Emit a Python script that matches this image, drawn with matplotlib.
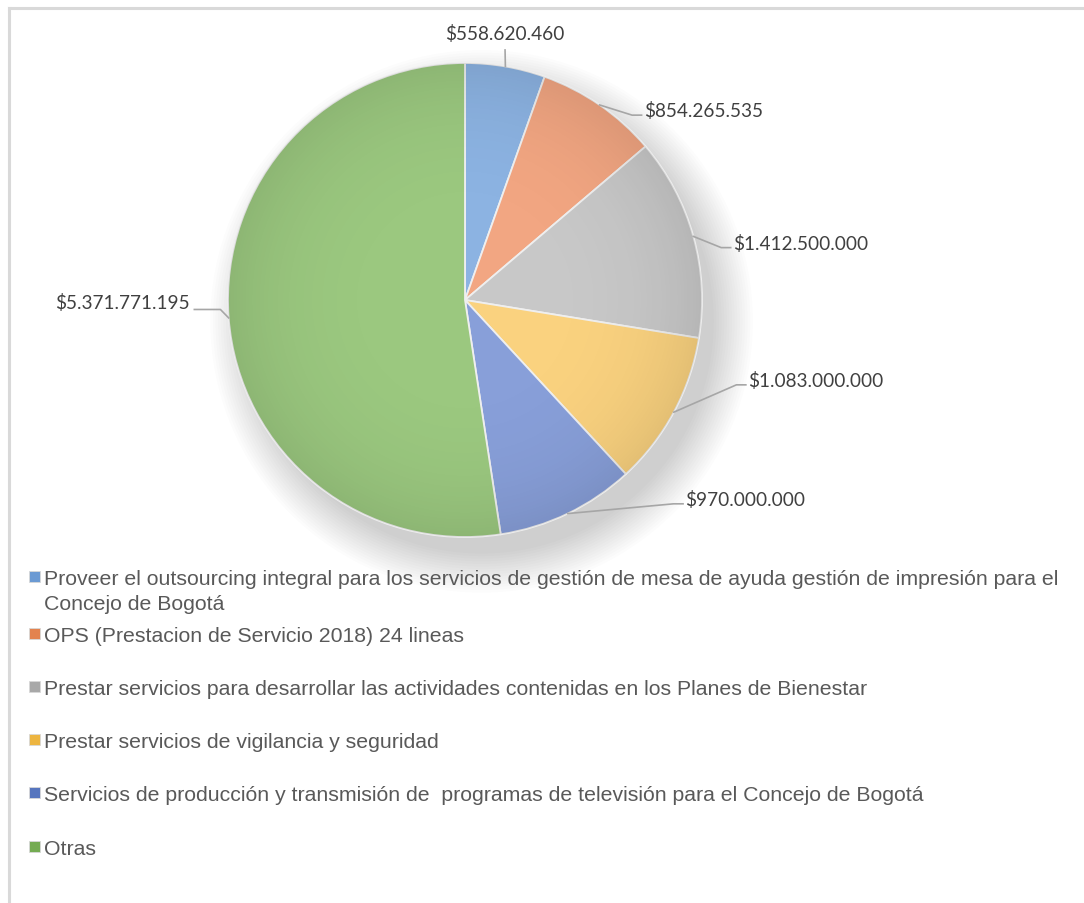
import matplotlib
matplotlib.use("Agg")
import matplotlib.pyplot as plt
import numpy as np
from matplotlib.patches import Circle, Rectangle
from matplotlib.lines import Line2D

categories = [
    "Proveer el outsourcing integral para los servicios de gestión de mesa de ayuda gestión de impresión para el\nConcejo de Bogotá",
    "OPS (Prestacion de Servicio 2018) 24 lineas",
    "Prestar servicios para desarrollar las actividades contenidas en los Planes de Bienestar",
    "Prestar servicios de vigilancia y seguridad",
    "Servicios de producción y transmisión de  programas de televisión para el Concejo de Bogotá",
    "Otras",
]
values = [558620460, 854265535, 1412500000, 1083000000, 970000000, 5371771195]
value_labels = ["$558.620.460", "$854.265.535", "$1.412.500.000",
                "$1.083.000.000", "$970.000.000", "$5.371.771.195"]
colors = ["#8CB3E2", "#F2A682", "#C8C8C8", "#FAD27F", "#889FD9", "#9BC87F"]
marker_colors = ["#6B9AD3", "#E3834F", "#A8A8A8", "#EDB540", "#5675BE", "#74AB52"]

W, H = 1084, 904
fig = plt.figure(figsize=(W / 100, H / 100), dpi=100)
fig.patch.set_facecolor("white")

# chart border (top and left visible)
fig.add_artist(Line2D([9 / W, 1.0], [1 - 9 / H, 1 - 9 / H], color="#D9D9D9", lw=2.2))
fig.add_artist(Line2D([9 / W, 9 / W], [0, 1 - 9 / H], color="#D9D9D9", lw=2.2))

cx, cy, R = 465, 301, 237
ax = fig.add_axes([(cx - R) / W, 1 - (cy + R) / H, 2 * R / W, 2 * R / H])
ax.axis("off")

# soft shadow toward lower right
for i in range(16):
    ax.add_patch(Circle((0.07, -0.09), 0.98 + 0.011 * i, color="black",
                        alpha=0.011, lw=0, zorder=0, clip_on=False))

wedges, _ = ax.pie(values, colors=colors, startangle=90, counterclock=False,
                   radius=1.0, center=(0, 0), frame=False,
                   wedgeprops=dict(edgecolor="#EFEFEF", linewidth=1.3))
ax.set_xlim(-1, 1)
ax.set_ylim(-1, 1)
ax.set_aspect("auto")
for w in wedges:
    w.set_zorder(2)

# subtle radial shading overlay (darker toward rim) clipped to the pie
n = 400
gx, gy = np.meshgrid(np.linspace(-1, 1, n), np.linspace(-1, 1, n))
rr = np.sqrt(gx ** 2 + gy ** 2)
shade = np.zeros((n, n, 4))
shade[..., 3] = np.clip(0.09 * rr ** 4, 0, 1)
im = ax.imshow(shade, extent=(-1, 1, -1, 1), origin="lower", zorder=3,
               interpolation="bilinear", aspect="auto")
im.set_clip_path(Circle((0, 0), 1.0, transform=ax.transData))
ax.set_xlim(-1, 1)
ax.set_ylim(-1, 1)

# data labels (text positions in radius units; layout only)
label_pos = [(0.169, 1.125), (0.755, 0.80), (1.131, 0.241),
             (1.195, -0.338), (0.930, -0.84), (-1.162, -0.01)]
ha_list = ["center", "left", "left", "left", "left", "right"]
total = float(sum(values))
start = 90.0
for i, v in enumerate(values):
    span = 360.0 * v / total
    mid = np.deg2rad(start - span / 2)
    start -= span
    ex, ey = np.cos(mid), np.sin(mid)
    tx, ty = label_pos[i]
    if ha_list[i] == "center":
        pts = [(ex, ey), (tx, ty - 0.07)]
    elif ha_list[i] == "left":
        pts = [(ex, ey), (tx - 0.05, ty - 0.02), (tx - 0.01, ty - 0.02)]
    else:
        pts = [(ex, ey), (tx + 0.13, ty - 0.03), (tx + 0.02, ty - 0.03)]
    xs, ys = zip(*pts)
    ax.plot(xs, ys, color="#A6A6A6", lw=1.2, clip_on=False, zorder=4)
    ax.text(tx, ty, value_labels[i], ha=ha_list[i], va="center",
            fontsize=13.7, family=["Lato", "DejaVu Sans"], color="#404040",
            clip_on=False, zorder=5)

# legend
row_base = [585, 642, 695, 748, 801, 855]
line_step = 25
for i, lab in enumerate(categories):
    yb = row_base[i]
    fig.add_artist(Rectangle((29 / W, 1 - (yb - 2) / H), 11 / W, 11 / H,
                             facecolor=marker_colors[i], edgecolor="#D8D8D8", lw=0.6))
    for j, line in enumerate(lab.split("\n")):
        fig.text(44 / W, 1 - (yb + j * line_step) / H, line, ha="left", va="baseline",
                 fontsize=15.35, family=["Liberation Sans", "DejaVu Sans"],
                 color="#595959")

fig.savefig("out.png", dpi=100, facecolor="white")
